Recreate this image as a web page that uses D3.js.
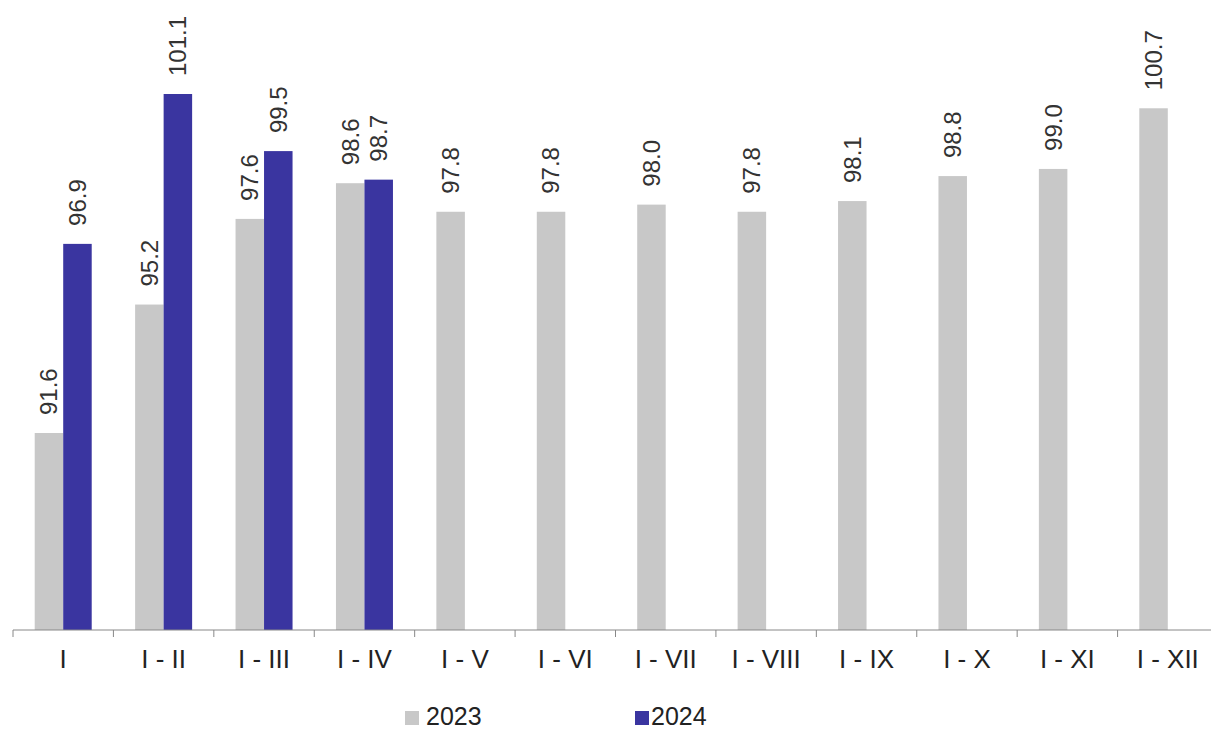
<!DOCTYPE html>
<html>
<head>
<meta charset="utf-8">
<script src="https://cdn.jsdelivr.net/npm/d3@7"></script>
<style>
  body { margin: 0; background: #fff; }
  svg { display: block; font-family: "Liberation Sans", Arial, sans-serif; }
</style>
</head>
<body>
<svg width="1211" height="729"></svg>
<script>
var categories = ["I", "I - II", "I - III", "I - IV", "I - V", "I - VI", "I - VII", "I - VIII", "I - IX", "I - X", "I - XI", "I - XII"];
var values2023 = [91.6, 95.2, 97.6, 98.6, 97.8, 97.8, 98.0, 97.8, 98.1, 98.8, 99.0, 100.7];
var values2024 = [96.9, 101.1, 99.5, 98.7];
var seriesNames = ["2023", "2024"];
var colors = ["#c8c8c8", "#3a35a0"];

var svg = d3.select("svg");

var x = d3.scaleBand()
  .domain(categories)
  .range([13, 1218])
  .paddingInner(0)
  .paddingOuter(0);

var y = d3.scaleLinear()
  .domain([86.08, 101.1])
  .range([630, 94]);

var barW = 28.5;

var series = [values2023, values2024];

series.forEach(function(vals, s) {
  var g = svg.append("g");
  g.selectAll("rect")
    .data(vals)
    .enter()
    .append("rect")
      .attr("x", function(d, i) { return x(categories[i]) + x.bandwidth() / 2 - barW + s * barW; })
      .attr("y", function(d) { return y(d); })
      .attr("width", barW)
      .attr("height", function(d) { return 630 - y(d); })
      .style("fill", colors[s]);

  g.selectAll("text")
    .data(vals)
    .enter()
    .append("text")
      .attr("transform", function(d, i) {
        var cx = x(categories[i]) + x.bandwidth() / 2 - barW / 2 + s * barW;
        return "translate(" + cx + "," + (y(d) - 18) + ") rotate(-90)";
      })
      .attr("dy", "0.35em")
      .attr("text-anchor", "start")
      .style("font-size", "24px")
      .style("fill", "#333")
      .text(function(d) { return d.toFixed(1); });
});

// x axis
var axis = svg.append("g")
  .attr("transform", "translate(0,630)")
  .call(d3.axisBottom(x).tickSize(0).tickPadding(20));
axis.select(".domain").attr("stroke", "#888").attr("d", "M13,0H1211");
axis.selectAll("text")
  .style("font-size", "26px")
  .style("font-family", "Liberation Sans, Arial, sans-serif")
  .style("fill", "#222");

axis.selectAll(".sep")
  .data(categories)
  .enter()
  .append("line")
    .attr("class", "sep")
    .attr("x1", function(d) { return x(d); })
    .attr("x2", function(d) { return x(d); })
    .attr("y1", 0)
    .attr("y2", 7)
    .attr("stroke", "#888");

// legend
var legendX = [405, 635];
var legend = svg.selectAll(".legend")
  .data(seriesNames)
  .enter()
  .append("g")
    .attr("class", "legend")
    .attr("transform", function(d, i) { return "translate(" + legendX[i] + ",711)"; });
legend.append("rect")
  .attr("width", 14)
  .attr("height", 14)
  .style("fill", function(d, i) { return colors[i]; });
legend.append("text")
  .attr("x", i => 0)
  .attr("x", function(d, i) { return i === 0 ? 21 : 16; })
  .attr("y", 14)
  .style("font-size", "25px")
  .style("fill", "#222")
  .text(function(d) { return d; });
</script>
</body>
</html>
